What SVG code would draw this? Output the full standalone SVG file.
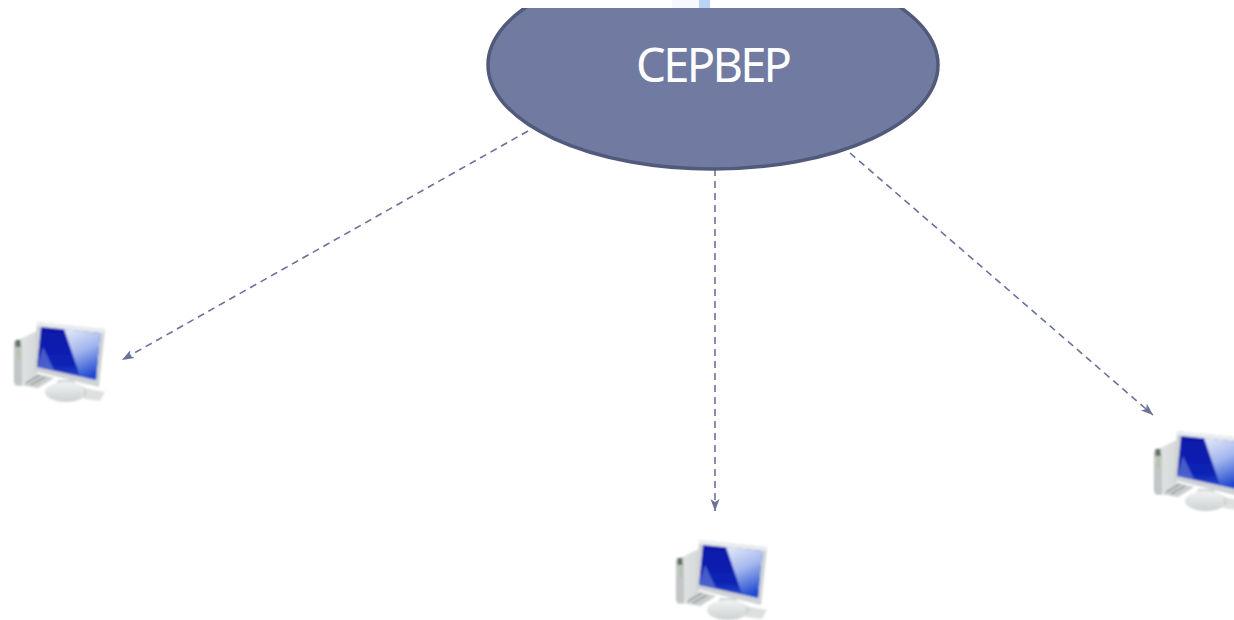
<svg xmlns="http://www.w3.org/2000/svg" width="1234" height="620" viewBox="0 0 1234 620">
<style>
.conn{fill:none;stroke:#6b7299;stroke-width:1.6;stroke-dasharray:7 5;marker-end:url(#arrow)}
.label{font-family:"Noto Sans","Open Sans",sans-serif;font-size:47px;fill:#fff;text-anchor:middle}
</style>
<defs>
<marker id="arrow" markerUnits="userSpaceOnUse" markerWidth="14" markerHeight="12" refX="12" refY="5" orient="auto">
<path d="M0 0.5L12 5L0 9.5L3 5Z" fill="#6b7299"/>
</marker>
<clipPath id="top"><rect x="0" y="8" width="1234" height="612"/></clipPath>
<linearGradient id="scr" x1="0" y1="0" x2="0" y2="1">
<stop offset="0" stop-color="#0818a8"/><stop offset="0.7" stop-color="#0a22b4"/><stop offset="1" stop-color="#2f50cc"/>
</linearGradient>
<linearGradient id="scrb" x1="0.2" y1="0" x2="0.5" y2="1">
<stop offset="0" stop-color="#dfe6f8"/><stop offset="0.45" stop-color="#a5b8ee"/><stop offset="1" stop-color="#1f48d0"/>
</linearGradient>
<linearGradient id="case" x1="0" y1="0" x2="1" y2="0">
<stop offset="0" stop-color="#b4b8b8"/><stop offset="0.35" stop-color="#dfe2e2"/><stop offset="1" stop-color="#d4d8d8"/>
</linearGradient>
<linearGradient id="stand" x1="0" y1="0" x2="0" y2="1">
<stop offset="0" stop-color="#f1f3f3"/><stop offset="1" stop-color="#cdd1d1"/>
</linearGradient>
<filter id="soft" x="-15%" y="-15%" width="130%" height="130%"><feGaussianBlur stdDeviation="0.9"/></filter>
<g id="pc" filter="url(#soft)">
<path d="M14 342L37 331V378L16 386L14 382Z" fill="url(#case)"/>
<path d="M14 342L22 345V386L15 385Z" fill="#c2c6c6"/>
<rect x="15.500" y="340" width="5" height="7" fill="#5f6e62"/>
<rect x="17.500" y="348" width="2" height="11" fill="#a7c596"/>
<path d="M22 385L38 374L54 378L38 388Z" fill="#c9cdcd"/>
<path d="M26 383L40 375M31 385L45 377" stroke="#8b8f8f" stroke-width="1.300"/>
<path d="M58 380H74L78 389H54Z" fill="#d3d6d6"/>
<ellipse cx="66" cy="392" rx="21" ry="10" fill="url(#stand)"/>
<path d="M84 388L105 392L100 401L84 399Z" fill="#c3c7c7" opacity="0.55"/>
<path d="M37 322L105 329L99 387L34 371Z" fill="#cfd3d6"/>
<path d="M37 322L105 329L104 333L37 326Z" fill="#e9ecef"/>
<path d="M41 327L100 333L96 380L37 367Z" fill="url(#scr)"/>
<path d="M64 329L100 333L96 380L80 376Z" fill="url(#scrb)"/>
<path d="M37 367L43 347L54 370Z" fill="#6f86dc" opacity="0.6"/>
</g>
</defs>
<rect width="1234" height="620" fill="#fff"/>
<rect x="672" y="0" width="27" height="8" fill="#f6f8fd"/>
<rect x="699" y="0" width="11" height="8" fill="#bdd3f6"/>
<g id="connectors">
<path class="conn" d="M528 131L122 360"/>
<path class="conn" d="M715 169V511"/>
<path class="conn" d="M850 153L1153 415"/>
</g>
<g id="server">
<ellipse cx="713" cy="65" rx="225" ry="104" fill="#717aa1" stroke="#515a7a" stroke-width="3.500" clip-path="url(#top)"/>
<text class="label" x="714" y="82" textLength="156" lengthAdjust="spacing">СЕРВЕР</text>
</g>
<g id="client-left"><use href="#pc"/></g>
<g id="client-middle"><use href="#pc" x="662" y="218"/></g>
<g id="client-right"><use href="#pc" x="1140" y="109"/></g>
</svg>
